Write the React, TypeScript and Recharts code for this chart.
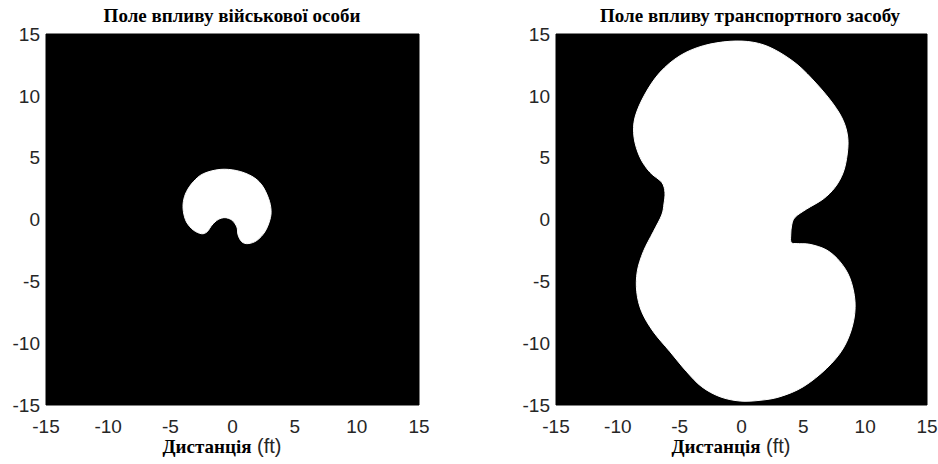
import React from 'react';
import { ScatterChart, Scatter, XAxis, YAxis, ReferenceArea } from 'recharts';

// axis range and ticks, identical on both panels
const AXIS_MIN = -15;
const AXIS_MAX = 15;
const AXIS_TICKS = [-15, -10, -5, 0, 5, 10, 15];

// outline of the soldier influence field (clockwise from the top)
const soldierX = [-1.0, 0.35, 1.55, 2.35, 2.9, 3.1, 3.0, 2.6, 1.95, 1.25, 0.75, 0.45, 0.35, -0.05, -0.6, -1.15, -1.65, -2.05, -2.5, -3.15, -3.7, -3.95, -3.95, -3.7, -3.15, -2.35];
const soldierY = [4.05, 3.95, 3.5, 2.8, 1.7, 0.75, -0.05, -1.0, -1.7, -1.95, -1.8, -1.25, -0.6, -0.05, 0.15, 0.0, -0.45, -1.0, -1.15, -0.85, -0.2, 0.65, 1.45, 2.25, 3.05, 3.7];

// outline of the vehicle influence field (clockwise from the top)
const vehicleX = [-0.93, 0.95, 2.57, 4.46, 6.08, 7.42, 8.23, 8.59, 8.55, 8.23, 7.56, 6.61, 5.27, 4.33, 4.06, 3.98, 4.02, 4.5, 5.54, 6.89, 7.96, 8.77, 9.18, 8.99, 8.23, 6.89, 5.0, 3.11, 1.5, -0.12, -1.74, -3.22, -4.43, -5.78, -7.13, -8.07, -8.47, -8.43, -7.94, -7.13, -6.45, -6.27, -6.19, -6.45, -7.4, -8.21, -8.69, -8.61, -7.8, -6.59, -4.97, -3.09];
const vehicleY = [14.41, 14.33, 13.79, 12.57, 10.96, 9.34, 7.99, 6.65, 5.3, 3.82, 2.6, 1.66, 0.85, 0.18, -0.44, -1.25, -1.86, -1.95, -2.01, -2.47, -3.41, -4.75, -6.65, -8.53, -10.41, -12.03, -13.52, -14.33, -14.62, -14.68, -14.33, -13.52, -12.31, -10.69, -9.07, -7.45, -5.84, -4.22, -2.6, -0.99, 0.36, 1.25, 2.2, 3.01, 3.82, 5.03, 6.65, 8.26, 10.15, 11.9, 13.25, 14.05];

const TITLES = ['Поле впливу військової особи', 'Поле впливу транспортного засобу'];
const X_LABEL = 'Дистанція';
const X_UNIT = '(ft)';

type Pt = { x: number; y: number };

const toPoints = (xs: number[], ys: number[]): Pt[] => xs.map((x, i) => ({ x, y: ys[i] }));

// smooth closed curve (Catmull-Rom) through the already scaled points
const closedPath = (pts: Pt[]) => {
  const n = pts.length;
  if (!n) return '';
  const at = (i: number) => pts[(i + n) % n];
  let d = `M${pts[0].x},${pts[0].y}`;
  for (let i = 0; i < n; i++) {
    const p0 = at(i - 1), p1 = at(i), p2 = at(i + 1), p3 = at(i + 2);
    d += `C${p1.x + (p2.x - p0.x) / 6},${p1.y + (p2.y - p0.y) / 6} ${p2.x - (p3.x - p1.x) / 6},${p2.y - (p3.y - p1.y) / 6} ${p2.x},${p2.y}`;
  }
  return d + 'Z';
};

const Outline = (props: any) => (
  <path d={closedPath(props.points || [])} fill="#fff" stroke="#fff" strokeWidth={1} />
);

const tickStyle = { fill: '#262626', fontSize: 19, fontFamily: '"Liberation Sans", Arial, sans-serif' };

interface FieldProps {
  data: Pt[];
  width: number;
  yAxisWidth: number;
  rightMargin: number;
}

const Field: React.FC<FieldProps> = ({ data, width, yAxisWidth, rightMargin }) => (
  <ScatterChart width={width} height={464} margin={{ top: 34, right: rightMargin, bottom: 29, left: 0 }}>
    <XAxis
      type="number"
      dataKey="x"
      domain={[AXIS_MIN, AXIS_MAX]}
      ticks={AXIS_TICKS}
      interval={0}
      allowDataOverflow
      axisLine={false}
      tickLine={false}
      tickSize={0}
      tickMargin={15}
      height={30}
      tick={tickStyle}
    />
    <YAxis
      type="number"
      dataKey="y"
      domain={[AXIS_MIN, AXIS_MAX]}
      ticks={AXIS_TICKS}
      interval={0}
      allowDataOverflow
      axisLine={false}
      tickLine={false}
      tickSize={0}
      tickMargin={6}
      width={yAxisWidth}
      tick={tickStyle}
    />
    <ReferenceArea x1={AXIS_MIN} x2={AXIS_MAX} y1={AXIS_MIN} y2={AXIS_MAX} fill="#000" fillOpacity={1} stroke="#000" />
    <Scatter
      data={data}
      fill="#fff"
      line={Outline}
      shape={() => <g />}
      legendType="none"
      isAnimationActive={false}
    />
  </ScatterChart>
);

const serif = '"Liberation Serif", "Times New Roman", serif';
const sans = '"Liberation Sans", Arial, sans-serif';

const AxisTitle = ({ cx }: { cx: number }) => (
  <text x={cx} y={453} textAnchor="middle" fill="#000">
    <tspan fontFamily={serif} fontWeight="bold" fontSize={19}>{X_LABEL}</tspan>
    <tspan fontFamily={sans} fontSize={20} fill="#262626">{' ' + X_UNIT}</tspan>
  </text>
);

export default function App() {
  return (
    <div style={{ position: 'absolute', left: 0, top: 0, width: 938, height: 464, background: '#fff', overflow: 'hidden' }}>
      <div style={{ position: 'absolute', left: 0, top: 0 }}>
        <Field data={toPoints(soldierX, soldierY)} width={469} yAxisWidth={46} rightMargin={50} />
      </div>
      <div style={{ position: 'absolute', left: 469, top: 0 }}>
        <Field data={toPoints(vehicleX, vehicleY)} width={469} yAxisWidth={87} rightMargin={11} />
      </div>
      <svg width={938} height={464} style={{ position: 'absolute', left: 0, top: 0, pointerEvents: 'none' }}>
        <text x={232} y={22} textAnchor="middle" fontFamily={serif} fontWeight="bold" fontSize={19} fill="#000">
          {TITLES[0]}
        </text>
        <text x={750} y={22} textAnchor="middle" fontFamily={serif} fontWeight="bold" fontSize={19} fill="#000">
          {TITLES[1]}
        </text>
        <AxisTitle cx={222} />
        <AxisTitle cx={731} />
      </svg>
    </div>
  );
}
